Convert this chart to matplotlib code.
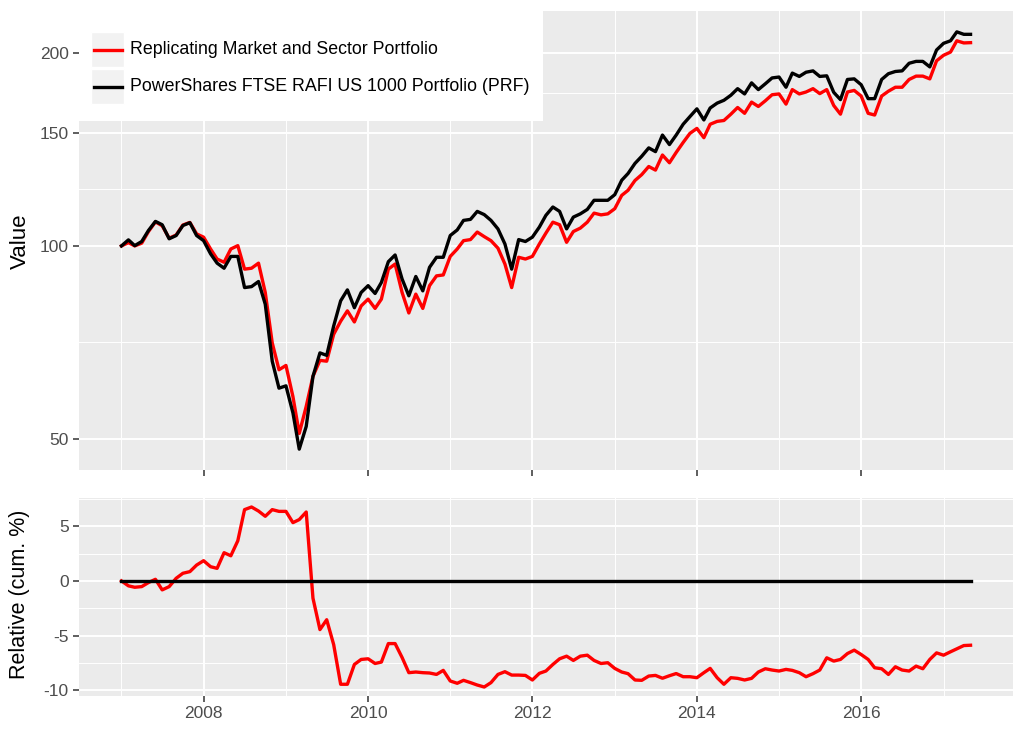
import numpy as np
import pandas as pd
import matplotlib
matplotlib.use("Agg")
import matplotlib.pyplot as plt
import matplotlib.dates as mdates
from matplotlib.patches import Rectangle
from matplotlib.lines import Line2D
from matplotlib.ticker import FixedLocator, FixedFormatter, NullFormatter

plt.rcParams["font.family"] = ["Liberation Sans", "DejaVu Sans"]
plt.rcParams["axes.unicode_minus"] = False

# monthly observations, Jan 2007 .. May 2017
dates = pd.date_range("2007-01-01", periods=125, freq="MS")

prf = [
    100.0, 102.2, 100.1, 101.6, 105.7, 109.2, 107.9, 102.6, 103.8, 107.6, 108.7, 103.8,
    101.9, 97.2, 94.0, 92.3, 96.3, 96.3, 86.1, 86.4, 88.0, 81.1, 66.1, 60.0,
    60.5, 54.9, 48.2, 52.3, 62.6, 68.1, 67.5, 75.0, 82.1, 85.4, 80.1, 84.6,
    86.7, 84.3, 87.7, 94.5, 96.8, 88.8, 83.6, 89.6, 85.1, 92.6, 96.0, 96.0,
    103.8, 105.9, 109.6, 110.0, 113.2, 111.9, 109.6, 106.3, 100.7, 92.0, 102.3, 101.6,
    103.2, 107.0, 111.6, 115.0, 113.2, 106.3, 110.9, 112.2, 114.0, 117.8, 117.8, 117.8,
    120.2, 126.6, 129.7, 134.5, 138.0, 142.2, 140.3, 148.9, 143.9, 148.9, 154.8, 159.1,
    163.6, 157.2, 164.1, 167.0, 168.7, 171.8, 175.9, 172.6, 179.6, 175.3, 179.0, 182.8,
    183.4, 176.8, 186.0, 183.8, 186.6, 187.5, 183.8, 184.2, 173.6, 169.1, 181.8, 182.2,
    178.4, 169.7, 169.7, 181.8, 185.6, 187.1, 187.5, 192.7, 194.0, 194.0, 190.2, 202.1,
    207.0, 208.9, 215.7, 213.8, 213.8,
]

replica = [
    100.0, 101.2, 100.0, 101.0, 105.3, 109.0, 107.5, 102.8, 104.0, 107.8, 108.8, 104.4,
    103.2, 98.9, 95.4, 94.3, 98.9, 100.1, 92.0, 92.3, 94.0, 84.6, 70.6, 64.1,
    65.1, 58.2, 51.0, 56.2, 62.6, 66.3, 66.1, 72.8, 76.3, 79.2, 76.1, 80.6,
    82.6, 79.9, 82.6, 92.0, 93.7, 84.6, 78.6, 84.1, 79.9, 86.7, 89.8, 90.1,
    96.3, 98.9, 101.9, 102.3, 105.1, 103.4, 101.9, 99.2, 93.7, 86.1, 96.0, 95.4,
    96.3, 100.7, 104.7, 108.9, 107.9, 101.3, 105.3, 106.6, 108.9, 112.5, 111.8, 112.2,
    114.3, 119.9, 122.1, 126.5, 129.2, 133.0, 131.3, 138.6, 134.8, 139.9, 145.0, 149.8,
    152.5, 147.5, 154.8, 156.4, 156.9, 160.5, 164.4, 161.0, 167.6, 165.0, 168.4, 172.1,
    172.6, 166.4, 175.3, 172.6, 173.8, 175.9, 172.8, 175.3, 165.6, 160.5, 173.8, 174.8,
    171.3, 161.0, 160.0, 171.3, 174.3, 176.8, 176.8, 181.8, 184.0, 184.0, 182.2, 194.4,
    198.3, 200.6, 208.9, 207.3, 207.5,
]

relative = [
    0.0, -0.45, -0.58, -0.52, -0.15, 0.15, -0.82, -0.52, 0.24, 0.70, 0.85, 1.45,
    1.85, 1.30, 1.15, 2.58, 2.30, 3.67, 6.52, 6.76, 6.39, 5.91, 6.52, 6.36,
    6.36, 5.33, 5.61, 6.30, -1.58, -4.45, -3.55, -5.82, -9.45, -9.45, -7.64, -7.18,
    -7.12, -7.55, -7.42, -5.73, -5.73, -7.00, -8.39, -8.33, -8.39, -8.42, -8.55, -8.18,
    -9.15, -9.36, -9.09, -9.30, -9.52, -9.70, -9.30, -8.55, -8.30, -8.61, -8.61, -8.64,
    -9.06, -8.45, -8.24, -7.64, -7.12, -6.88, -7.27, -6.88, -6.79, -7.27, -7.55, -7.48,
    -8.00, -8.33, -8.48, -9.06, -9.09, -8.70, -8.64, -8.90, -8.67, -8.47, -8.76, -8.76,
    -8.85, -8.39, -8.00, -8.85, -9.45, -8.85, -8.91, -9.06, -8.91, -8.33, -8.03, -8.15,
    -8.24, -8.09, -8.18, -8.39, -8.76, -8.48, -8.15, -7.03, -7.33, -7.18, -6.64, -6.33,
    -6.73, -7.18, -7.94, -8.03, -8.55, -7.85, -8.15, -8.24, -7.79, -8.03, -7.18, -6.58,
    -6.79, -6.48, -6.21, -5.91, -5.88,
]
baseline = [0.0] * len(dates)

labels = ["Replicating Market and Sector Portfolio",
          "PowerShares FTSE RAFI US 1000 Portfolio (PRF)"]
colors = ["#FF0000", "#000000"]

year_major = [pd.Timestamp(f"{y}-01-01") for y in range(2008, 2017, 2)]
year_minor = [pd.Timestamp(f"{y}-01-01") for y in range(2007, 2018, 2)]

W, H = 1024, 731
fig = plt.figure(figsize=(W / 100, H / 100), dpi=100)


def frac(x0, y0, x1, y1):
    return [x0 / W, 1 - y1 / H, (x1 - x0) / W, (y1 - y0) / H]


ax1 = fig.add_axes(frac(79, 11, 1013, 470))
ax2 = fig.add_axes(frac(79, 498, 1013, 696), sharex=ax1)

LW = 2.4
ax1.plot(dates, replica, color=colors[0], lw=LW, zorder=3)
ax1.plot(dates, prf, color=colors[1], lw=LW, zorder=3)
ax2.plot(dates, relative, color=colors[0], lw=LW, zorder=3)
ax2.plot(dates, baseline, color=colors[1], lw=LW, zorder=3)

ax1.set_yscale("log")
ax1.margins(x=0.05, y=0.05)
ax2.margins(x=0.05, y=0.05)

ax1.yaxis.set_major_locator(FixedLocator([50, 100, 150, 200]))
ax1.yaxis.set_major_formatter(FixedFormatter(["50", "100", "150", "200"]))
ax1.yaxis.set_minor_locator(FixedLocator([np.sqrt(50 * 100), np.sqrt(100 * 150), np.sqrt(150 * 200)]))
ax1.yaxis.set_minor_formatter(NullFormatter())

ax2.yaxis.set_major_locator(FixedLocator([-10, -5, 0, 5]))
ax2.yaxis.set_minor_locator(FixedLocator([-7.5, -2.5, 2.5, 7.5]))

for ax in (ax1, ax2):
    ax.xaxis.set_major_locator(FixedLocator(mdates.date2num(year_major)))
    ax.xaxis.set_minor_locator(FixedLocator(mdates.date2num(year_minor)))
    ax.xaxis.set_major_formatter(mdates.DateFormatter("%Y"))
    ax.set_facecolor("#EBEBEB")
    for s in ax.spines.values():
        s.set_visible(False)
    ax.grid(which="major", color="white", lw=1.4, zorder=0)
    ax.grid(which="minor", color="white", lw=0.7, zorder=0)
    ax.set_axisbelow(True)
    ax.tick_params(which="major", direction="out", length=4.3, width=1.1,
                   color="#333333", labelcolor="#4D4D4D", labelsize=12.5, pad=3)
    ax.tick_params(which="minor", length=0)

ax1.tick_params(axis="x", labelbottom=False)

fig.text(20 / W, 1 - 241 / H, "Value", rotation=90, ha="center", va="center", fontsize=16)
fig.text(20 / W, 1 - 594 / H, "Relative (cum. %)", rotation=90, ha="center", va="center", fontsize=15.5)

# legend box (ggplot style, top-left inside the upper panel)
def px_rect(x0, y0, x1, y1, **kw):
    r = Rectangle((x0 / W, 1 - y1 / H), (x1 - x0) / W, (y1 - y0) / H,
                  transform=fig.transFigure, **kw)
    fig.add_artist(r)

px_rect(79, 11, 543, 121, facecolor="white", edgecolor="none", zorder=5)
key_rows = [(32, 67), (69, 104)]
for (ky0, ky1), lab, col in zip(key_rows, labels, colors):
    px_rect(91, ky0, 124, ky1, facecolor="#F2F2F2", edgecolor="white", zorder=6)
    yc = 1 - (ky0 + ky1) / 2 / H
    fig.add_artist(Line2D([93.6 / W, 122 / W], [yc, yc], color=col, lw=LW,
                          transform=fig.transFigure, zorder=7))
    fig.text(130 / W, yc, lab, ha="left", va="center", fontsize=12.8, zorder=7)

fig.savefig("out.png", dpi=100)
